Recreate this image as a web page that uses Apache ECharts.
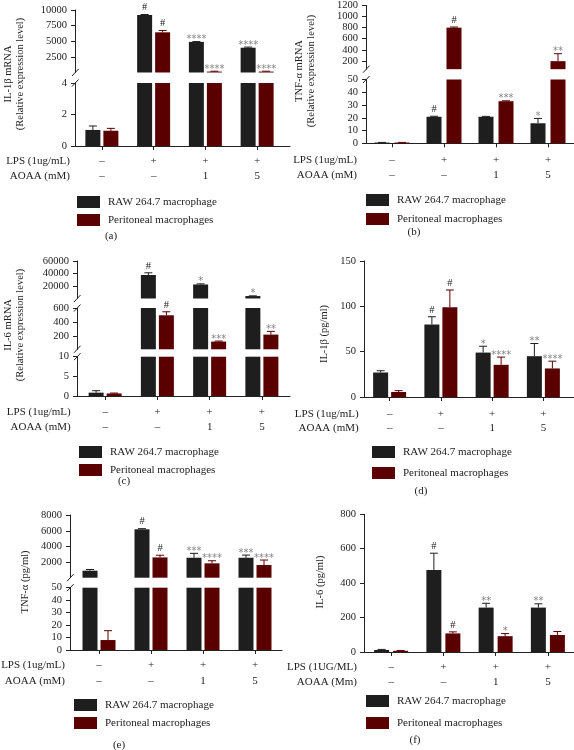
<!DOCTYPE html>
<html><head><meta charset="utf-8">
<script src="https://cdn.jsdelivr.net/npm/echarts@6/dist/echarts.min.js"></script>
<style>html,body{margin:0;padding:0;background:#fff}#c{width:574px;height:750px}</style>
</head><body><div id="c"></div>
<script>
// ---------- DATA ----------
const categories = ['Control', 'LPS', 'LPS+AOAA 1', 'LPS+AOAA 5'];
const lpsRow = ['–', '+', '+', '+'];
const aoaaRow = ['–', '–', '1', '5'];
const seriesNames = ['RAW 264.7 macrophage', 'Peritoneal macrophages'];

// (a) IL-1β mRNA
const rawA = [1.02, 9200, 4900, 3970];
const rawAErr = [0.25, 80, 50, 100];
const periA = [0.97, 6430, 150, 150];
const periAErr = [0.15, 300, 60, 60];
const rawASig = ['', '#', '****', '****'];
const periASig = ['', '#', '****', '****'];
const ticksA = [[2500, 5000, 7500, 10000], [0, 2, 4]];

// (b) TNF-α mRNA
const rawB = [0.6, 20.8, 20.8, 15.7];
const rawBErr = [0.1, 0.4, 0.3, 3.8];
const periB = [0.6, 800, 33, 195];
const periBErr = [0.1, 12, 0.3, 135];
const rawBSig = ['', '#', '', '*'];
const periBSig = ['', '#', '***', '**'];
const ticksB = [[200, 400, 600, 800, 1000, 1200], [0, 10, 20, 30, 40, 50]];

// (c) IL-6 mRNA
const rawC = [0.85, 37800, 22800, 4500];
const rawCErr = [0.5, 3500, 1000, 300];
const periC = [0.65, 496, 120, 220];
const periCErr = [0.1, 50, 8, 46];
const rawCSig = ['', '#', '*', '*'];
const periCSig = ['', '#', '***', '**'];
const ticksC = [[20000, 40000, 60000], [200, 400, 600], [0, 5, 10]];

// (d) IL-1β (pg/ml)
const rawD = [27, 80, 49, 45];
const rawDErr = [2, 8.5, 7, 14];
const periD = [5.5, 99, 35.5, 31.5];
const periDErr = [1.5, 19, 8.5, 8];
const rawDSig = ['', '#', '*', '**'];
const periDSig = ['', '#', '****', '****'];
const ticksD = [[0, 50, 100, 150]];

// (e) TNF-α (pg/ml)
const rawE = [940, 6190, 2580, 2580];
const rawEErr = [150, 80, 560, 340];
const periE = [8, 2620, 1870, 1660];
const periEErr = [7.5, 280, 330, 630];
const rawESig = ['', '#', '***', '***'];
const periESig = ['', '#', '****', '****'];
const ticksE = [[2000, 4000, 6000, 8000], [0, 10, 20, 30, 40, 50]];

// (f) IL-6 (pg/ml)
const rawF = [12, 477, 258, 258];
const rawFErr = [3, 97, 25, 22];
const periF = [7, 108, 92, 99];
const periFErr = [2, 9, 15, 20];
const rawFSig = ['', '#', '**', '**'];
const periFSig = ['', '#', '*', ''];
const ticksF = [[0, 200, 400, 600, 800]];

// ---------- LAYOUT / STYLE ----------
const FONT = '"Liberation Serif", "Times New Roman", serif';
const STAR_FONT = '"DejaVu Sans", sans-serif';
const C_RAW = '#1e1e1e', C_PERI = '#5b0000', C_TXT = '#222';

const panels = [
  { title: 'IL-1β mRNA\n(Relative expression level)', titleX: 14, titleY: 74,
    d: [rawA, rawAErr, rawASig, periA, periAErr, periASig],
    lps: 'LPS (1ug/mL)', aoaa: 'AOAA (mM)', rowRight: 70, row1: 161, row2: 176,
    x0: 75, x1: 290, catL: 76, catW: 207, barW: 15, gap: 3,
    segs: [{ top: 10, bottom: 72.5, min: 4, max: 10000, ticks: ticksA[0] },
           { top: 83, bottom: 146, min: 0, max: 4, ticks: ticksA[1] }],
    legend: { left: 77, top: 196, gap: 6 }, label: '(a)', labelX: 111, labelY: 236 },
  { title: 'TNF-α mRNA\n(Relative expression level)', titleX: 305, titleY: 71,
    d: [rawB, rawBErr, rawBSig, periB, periBErr, periBSig],
    lps: 'LPS (1ug/mL)', aoaa: 'AOAA (mM)', rowRight: 357, row1: 160, row2: 175,
    x0: 366, x1: 574, catL: 366, catW: 211, barW: 15, gap: 5,
    segs: [{ top: 4, bottom: 69.2, min: 50, max: 1200, ticks: ticksB[0] },
           { top: 79.5, bottom: 143.3, min: 0, max: 50, ticks: ticksB[1] }],
    legend: { left: 366, top: 194, gap: 7 }, label: '(b)', labelX: 414, labelY: 232 },
  { title: 'IL-6 mRNA\n(Relative expression level)', titleX: 14, titleY: 325,
    d: [rawC, rawCErr, rawCSig, periC, periCErr, periCSig],
    lps: 'LPS (1ug/mL)', aoaa: 'AOAA (mM)', rowRight: 70.7, row1: 411.7, row2: 426.7,
    x0: 77, x1: 290, catL: 79, catW: 209, barW: 15, gap: 3,
    segs: [{ top: 261, bottom: 298.5, min: 600, max: 60000, ticks: ticksC[0] },
           { top: 308, bottom: 349.3, min: 10, max: 600, ticks: ticksC[1] },
           { top: 356.7, bottom: 396, min: 0, max: 10, ticks: ticksC[2] }],
    legend: { left: 79, top: 446, gap: 6 }, label: '(c)', labelX: 124, labelY: 481 },
  { title: 'IL-1β (pg/ml)', titleX: 324, titleY: 334,
    d: [rawD, rawDErr, rawDSig, periD, periDErr, periDSig],
    lps: 'LPS (1ug/mL)', aoaa: 'AOAA (mM)', rowRight: 358.7, row1: 414, row2: 428.3,
    x0: 364, x1: 574, catL: 364, catW: 205, barW: 15, gap: 3,
    segs: [{ top: 261, bottom: 397, min: 0, max: 150, ticks: ticksD[0] }],
    legend: { left: 372, top: 446, gap: 9 }, label: '(d)', labelX: 421, labelY: 491 },
  { title: 'TNF-α (pg/ml)', titleX: 25, titleY: 582,
    d: [rawE, rawEErr, rawESig, periE, periEErr, periESig],
    lps: 'LPS (1ug/mL)', aoaa: 'AOAA (mM)', rowRight: 65, row1: 665, row2: 681,
    x0: 70, x1: 282, catL: 73, catW: 208, barW: 15, gap: 3,
    segs: [{ top: 515, bottom: 577.7, min: 50, max: 8000, ticks: ticksE[0] },
           { top: 587.7, bottom: 650, min: 0, max: 50, ticks: ticksE[1] }],
    legend: { left: 74, top: 699, gap: 6 }, label: '(e)', labelX: 119, labelY: 745 },
  { title: 'IL-6 (pg/ml)', titleX: 320, titleY: 582,
    d: [rawF, rawFErr, rawFSig, periF, periFErr, periFSig],
    lps: 'LPS (1UG/ML)', aoaa: 'AOAA (Mm)', rowRight: 357, row1: 667, row2: 682,
    x0: 364, x1: 574, catL: 365, catW: 210, barW: 15, gap: 4,
    segs: [{ top: 514.3, bottom: 652, min: 0, max: 800, ticks: ticksF[0] }],
    legend: { left: 366, top: 695, gap: 10 }, label: '(f)', labelX: 415, labelY: 740 }
];

const grids = [], xAxes = [], yAxes = [], series = [], legends = [], graphics = [];

function txt(x, y, text, size, align, extra) {
  return Object.assign({ type: 'text', x: x, y: y, silent: true,
    style: { text: text, fontFamily: FONT, fontSize: size, fill: C_TXT,
      align: align, textAlign: align, verticalAlign: 'middle', textVerticalAlign: 'middle' } }, extra || {});
}

panels.forEach(p => {
  const nSeg = p.segs.length;
  const lh = p.row2 - p.row1;
  p.segs.forEach((s, si) => {
    const gi = grids.length;
    const isBottom = si === nSeg - 1;
    grids.push({ left: p.catL, top: s.top, width: p.catW, height: s.bottom - s.top });
    xAxes.push({ type: 'category', gridIndex: gi, data: categories, show: isBottom,
      axisLine: { show: false },
      axisTick: { show: true, alignWithLabel: true, length: 4, lineStyle: { color: C_TXT } },
      axisLabel: { show: true, interval: 0, margin: p.row1 - s.bottom - lh / 2, lineHeight: lh,
        fontFamily: FONT, fontSize: 11, color: C_TXT,
        formatter: (v, i) => lpsRow[i] + '\n' + aoaaRow[i] },
      splitLine: { show: false } });
    yAxes.push({ type: 'value', gridIndex: gi, min: s.min, max: s.max, offset: p.catL - p.x0,
      axisLine: { show: true, lineStyle: { color: C_TXT } },
      axisTick: { show: true, length: 4, customValues: s.ticks, lineStyle: { color: C_TXT } },
      axisLabel: { customValues: s.ticks, margin: 8, fontFamily: FONT, fontSize: 10.5, color: C_TXT,
        formatter: v => String(v) },
      splitLine: { show: false } });

    const groups = [[p.d[0], p.d[1], p.d[2], C_RAW, -1], [p.d[3], p.d[4], p.d[5], C_PERI, 1]];
    groups.forEach((g, k) => {
      const vals = g[0], errs = g[1], sigs = g[2], col = g[3], side = g[4];
      const dx = side * (p.barW + p.gap) / 2;
      series.push({ type: 'bar', name: seriesNames[k], xAxisIndex: gi, yAxisIndex: gi,
        data: vals.map(v => (v > s.min ? v : '-')),
        barWidth: p.barW, barGap: (p.gap / p.barW * 100) + '%',
        itemStyle: { color: col }, clip: true, silent: true });
      series.push({ type: 'custom', name: 'err', xAxisIndex: gi, yAxisIndex: gi, clip: true, silent: true,
        data: vals.map((v, i) => [i, v, errs[i]]),
        renderItem: (params, api) => {
          const i = api.value(0), v = api.value(1), e = api.value(2);
          if (!(v > s.min && v <= s.max)) return null;
          const a = api.coord([i, v]), b = api.coord([i, v + e]);
          const x = a[0] + dx, cw = 4;
          return { type: 'group', children: [
            { type: 'line', shape: { x1: x, y1: a[1], x2: x, y2: b[1] }, style: { stroke: col, lineWidth: 1 } },
            { type: 'line', shape: { x1: x - cw, y1: b[1], x2: x + cw, y2: b[1] }, style: { stroke: col, lineWidth: 1 } }
          ] };
        } });
      series.push({ type: 'custom', name: 'sig', xAxisIndex: gi, yAxisIndex: gi, clip: false, silent: true,
        data: vals.map((v, i) => [i, v + errs[i]]),
        renderItem: (params, api) => {
          const i = params.dataIndex, t = sigs[i], top = vals[i] + errs[i];
          if (!t || !(top > s.min && top <= s.max)) return null;
          const pt = api.coord([i, top]);
          const hash = t === '#';
          return { type: 'text', x: pt[0] + dx, y: pt[1] + (hash ? -1.5 : 3),
            style: { text: t, fontFamily: hash ? FONT : STAR_FONT, fontSize: hash ? 10.5 : 10,
              fill: hash ? '#222' : '#858585',
              align: 'center', textAlign: 'center', verticalAlign: 'bottom', textVerticalAlign: 'bottom' } };
        } });
    });

    if (!isBottom) {
      const yA = s.bottom, yB = p.segs[si + 1].top;
      [yA, yB].forEach(y => graphics.push({ type: 'line', silent: true,
        shape: { x1: p.x0 - 3, y1: y + 3.5, x2: p.x0 + 3.5, y2: y - 3.5 },
        style: { stroke: C_TXT, lineWidth: 1 } }));
    }
  });

  // full-length x axis line
  const gi = grids.length;
  const bottom = p.segs[nSeg - 1].bottom;
  grids.push({ left: p.x0, top: bottom - 1, width: p.x1 - p.x0, height: 1 });
  xAxes.push({ type: 'value', gridIndex: gi, min: 0, max: 1,
    axisLine: { show: true, onZero: false, lineStyle: { color: C_TXT } },
    axisTick: { show: false }, axisLabel: { show: false }, splitLine: { show: false } });
  yAxes.push({ type: 'value', gridIndex: gi, show: false, min: 0, max: 1 });

  legends.push({ data: seriesNames, left: p.legend.left, top: p.legend.top, orient: 'vertical', padding: 0,
    itemWidth: 23, itemHeight: 12, itemGap: p.legend.gap, icon: 'rect', selectedMode: false,
    textStyle: { fontFamily: FONT, fontSize: 11, color: C_TXT, padding: [0, 0, 0, 3] } });

  graphics.push(txt(p.rowRight, p.row1, p.lps, 11, 'right'));
  graphics.push(txt(p.rowRight, p.row2, p.aoaa, 11, 'right'));
  graphics.push(txt(p.labelX, p.labelY, p.label, 11, 'center'));
  const t = txt(p.titleX, p.titleY, p.title, 10.5, 'center', { rotation: Math.PI / 2 });
  t.style.lineHeight = 12;
  graphics.push(t);
});

const chart = echarts.init(document.getElementById('c'), null, { renderer: 'canvas' });
chart.setOption({
  animation: false,
  backgroundColor: '#fff',
  grid: grids, xAxis: xAxes, yAxis: yAxes, series: series, legend: legends,
  graphic: graphics
});
</script>
</body></html>
